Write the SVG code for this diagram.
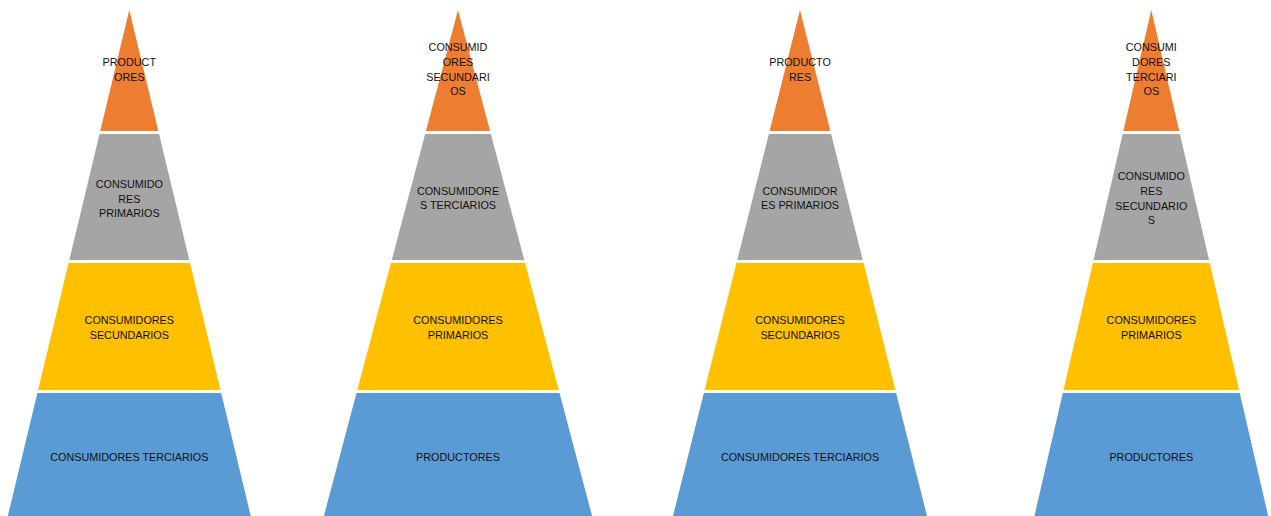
<svg xmlns="http://www.w3.org/2000/svg" width="1271" height="516" viewBox="0 0 1271 516">
<style>
.o{fill:#ED7D31}.g{fill:#A5A5A5}.y{fill:#FFC000}.b{fill:#5B9BD5}
text{font-family:"Liberation Sans",Arial,sans-serif;font-size:10.8px;fill:#111;text-anchor:middle}
</style>
<rect width="1271" height="516" fill="#fff"/>
<g id="pyramid1">
<g id="p1-top"><polygon class="o" points="129.3,10 158.34,131 100.26,131"/>
<text x="129.3" y="65.5">PRODUCT</text><text x="129.3" y="80.5">ORES</text></g>
<g id="p1-l2"><polygon class="g" points="99.54,134 159.06,134 189.3,260 69.3,260"/>
<text x="129.3" y="188">CONSUMIDO</text><text x="129.3" y="203">RES</text><text x="129.3" y="217">PRIMARIOS</text></g>
<g id="p1-l3"><polygon class="y" points="68.58,263 190.02,263 220.5,390 38.1,390"/>
<text x="129.3" y="324">CONSUMIDORES</text><text x="129.3" y="339">SECUNDARIOS</text></g>
<g id="p1-l4"><polygon class="b" points="37.38,393 221.22,393 251.7,520 6.9,520"/>
<text x="129.3" y="460.5">CONSUMIDORES TERCIARIOS</text></g>
</g>
<g id="pyramid2">
<g id="p2-top"><polygon class="o" points="458,10 490.07,131 425.93,131"/>
<text x="458" y="50.5">CONSUMID</text><text x="458" y="66">ORES</text><text x="458" y="81">SECUNDARI</text><text x="458" y="95">OS</text></g>
<g id="p2-l2"><polygon class="g" points="425.14,134 490.86,134 524.25,260 391.75,260"/>
<text x="458" y="195">CONSUMIDORE</text><text x="458" y="209">S TERCIARIOS</text></g>
<g id="p2-l3"><polygon class="y" points="390.95,263 525.05,263 558.7,390 357.3,390"/>
<text x="458" y="324">CONSUMIDORES</text><text x="458" y="339">PRIMARIOS</text></g>
<g id="p2-l4"><polygon class="b" points="356.5,393 559.5,393 593.15,520 322.85,520"/>
<text x="458" y="460.5">PRODUCTORES</text></g>
</g>
<g id="pyramid3">
<g id="p3-top"><polygon class="o" points="800,10 830.37,131 769.63,131"/>
<text x="800" y="65.5">PRODUCTO</text><text x="800" y="80.5">RES</text></g>
<g id="p3-l2"><polygon class="g" points="768.88,134 831.12,134 862.75,260 737.25,260"/>
<text x="800" y="195">CONSUMIDOR</text><text x="800" y="209">ES PRIMARIOS</text></g>
<g id="p3-l3"><polygon class="y" points="736.5,263 863.5,263 895.38,390 704.62,390"/>
<text x="800" y="324">CONSUMIDORES</text><text x="800" y="339">SECUNDARIOS</text></g>
<g id="p3-l4"><polygon class="b" points="703.87,393 896.13,393 928.01,520 671.99,520"/>
<text x="800" y="460.5">CONSUMIDORES TERCIARIOS</text></g>
</g>
<g id="pyramid4">
<g id="p4-top"><polygon class="o" points="1151.3,10 1179.25,131 1123.35,131"/>
<text x="1151.3" y="50.5">CONSUMI</text><text x="1151.3" y="66">DORES</text><text x="1151.3" y="81">TERCIARI</text><text x="1151.3" y="95">OS</text></g>
<g id="p4-l2"><polygon class="g" points="1122.66,134 1179.94,134 1209.05,260 1093.55,260"/>
<text x="1151.3" y="179.5">CONSUMIDO</text><text x="1151.3" y="195">RES</text><text x="1151.3" y="209.5">SECUNDARIO</text><text x="1151.3" y="224">S</text></g>
<g id="p4-l3"><polygon class="y" points="1092.86,263 1209.74,263 1239.08,390 1063.52,390"/>
<text x="1151.3" y="324">CONSUMIDORES</text><text x="1151.3" y="339">PRIMARIOS</text></g>
<g id="p4-l4"><polygon class="b" points="1062.83,393 1239.77,393 1269.11,520 1033.49,520"/>
<text x="1151.3" y="460.5">PRODUCTORES</text></g>
</g>
<g id="connectors"/>
</svg>
